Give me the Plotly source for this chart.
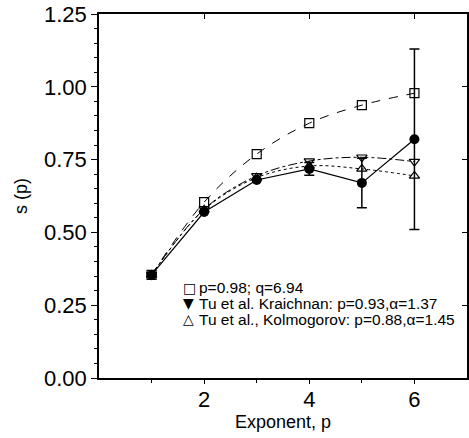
import plotly.graph_objects as go

p = [1, 2, 3, 4, 5, 6]
s_meas = [0.354, 0.570, 0.680, 0.718, 0.670, 0.820]
s_err = [0.0, 0.0, 0.0, 0.022, 0.085, 0.31]
s_pq = [0.354, 0.604, 0.769, 0.875, 0.937, 0.978]
s_kr = [0.354, 0.580, 0.694, 0.745, 0.758, 0.743]
s_ko = [0.354, 0.578, 0.688, 0.728, 0.718, 0.694]

legend_symbols = ["□", "▼", "△"]
legend_labels = ["p=0.98; q=6.94",
                 "Tu et al. Kraichnan: p=0.93,α=1.37",
                 "Tu et al., Kolmogorov: p=0.88,α=1.45"]

fig = go.Figure()
fig.add_trace(go.Scatter(x=p, y=s_pq, mode="lines+markers", showlegend=False,
                         line=dict(color="black", width=1, dash="dash", shape="spline"),
                         marker=dict(symbol="square-open", size=9, color="black", line=dict(width=1.2))))
fig.add_trace(go.Scatter(x=p, y=s_kr, mode="lines+markers", showlegend=False,
                         line=dict(color="black", width=1, dash="dashdot", shape="spline"),
                         marker=dict(symbol="triangle-down-open", size=9, color="black", line=dict(width=1.2))))
fig.add_trace(go.Scatter(x=p, y=s_ko, mode="lines+markers", showlegend=False,
                         line=dict(color="black", width=1, dash="dot", shape="spline"),
                         marker=dict(symbol="triangle-up-open", size=9, color="black", line=dict(width=1.2))))
fig.add_trace(go.Scatter(x=p, y=s_meas, mode="lines+markers", showlegend=False,
                         line=dict(color="black", width=1.2),
                         error_y=dict(type="data", array=s_err, color="black", thickness=1.5, width=5),
                         marker=dict(symbol="circle", size=10, color="black")))

axis_common = dict(showline=True, linecolor="black", linewidth=1.5, automargin=False, mirror=True,
                   ticks="outside", tickcolor="black", showgrid=False, zeroline=False,
                   ticklabeloverflow="allow", tickfont=dict(size=22, color="black"))
fig.update_xaxes(range=[0, 7], tickvals=[2, 4, 6], ticklen=4, ticklabelstandoff=-3,
                 minor=dict(tickvals=[1, 3, 5], ticks="outside", ticklen=3, tickcolor="black"),
                 title=dict(text="Exponent, p", font=dict(size=18, color="black"), standoff=2),
                 **axis_common)
fig.update_yaxes(range=[0, 1.25], tickvals=[0, 0.25, 0.5, 0.75, 1.0, 1.25],
                 ticktext=["0.00", "0.25", "0.50", "0.75", "1.00", "1.25"], ticklen=6,
                 minor=dict(dtick=0.05, ticks="outside", ticklen=3, tickcolor="black"),
                 title=dict(text="s (p)", font=dict(size=18, color="black"), standoff=12),
                 **axis_common)

fig.update_layout(
    xaxis2=dict(overlaying="x", side="top", range=[0, 7], showline=False,
                ticks="inside", ticklen=5, tickcolor="black", tickvals=[2, 4, 6],
                showticklabels=False, showgrid=False, zeroline=False, automargin=False),
    yaxis2=dict(overlaying="y", side="right", range=[0, 1.25], showline=False,
                ticks="inside", ticklen=5, tickcolor="black",
                tickvals=[0, 0.25, 0.5, 0.75, 1.0, 1.25], showticklabels=False,
                showgrid=False, zeroline=False, automargin=False),
)
# transparent copy of the measured points so the top/right tick axes render
fig.add_trace(go.Scatter(x=p, y=s_meas, xaxis="x2", yaxis="y2", mode="markers",
                         marker=dict(opacity=0), showlegend=False, hoverinfo="skip"))

for i, (sym, lab) in enumerate(zip(legend_symbols, legend_labels)):
    ypos = 0.248 - i * 0.043
    fig.add_annotation(xref="paper", yref="paper", x=0.224, y=ypos, xanchor="left",
                       yanchor="middle", showarrow=False, text=sym,
                       font=dict(family="DejaVu Sans", size=14, color="black"))
    fig.add_annotation(xref="paper", yref="paper", x=0.266, y=ypos, xanchor="left",
                       yanchor="middle", showarrow=False, text=lab,
                       font=dict(size=15.5, color="black"))

fig.update_layout(width=469, height=438, margin=dict(l=99, r=2, t=14, b=60),
                  plot_bgcolor="white", paper_bgcolor="white", showlegend=False,
                  font=dict(family="Liberation Sans, Arial, sans-serif", color="black"))

fig.write_html("out.html", config={"displayModeBar": False},
               post_script="document.body.style.margin='0px';document.body.style.overflow='hidden';")
